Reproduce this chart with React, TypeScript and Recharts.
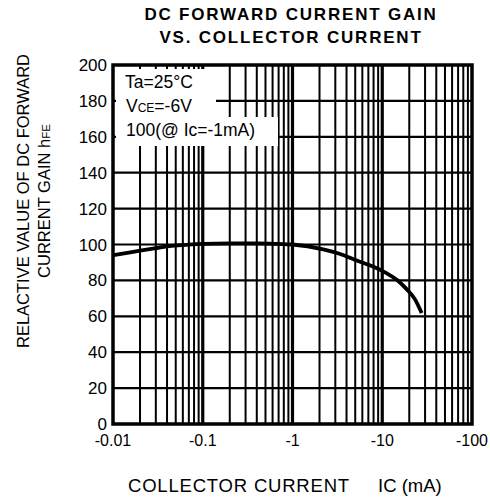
import React from 'react';
import { LineChart, Line, XAxis, YAxis, CartesianGrid, ReferenceLine, ReferenceArea } from 'recharts';

const currentMA = [0.01, 0.015, 0.02, 0.03, 0.045, 0.07, 0.1, 0.2, 0.4, 0.7, 1, 2.2, 3.4, 5.2, 8, 11, 14.5, 18.8, 23, 27.5];
const relativeHfe = [94, 95.5, 96.6, 98, 99.2, 99.9, 100.3, 100.6, 100.6, 100.3, 100, 97.3, 94.7, 91.1, 87.6, 84.2, 80.4, 75, 69.7, 61.8];
const xTicks = [0.01, 0.1, 1, 10, 100];
const yTicks = [0, 20, 40, 60, 80, 100, 120, 140, 160, 180, 200];
const decades = [0.01, 0.1, 1, 10];
const multipliers = [2, 3, 4, 5, 6, 7, 8, 9];
const majorGrid = [0.1, 1, 10];

const data = currentMA.map((ic, i) => ({ ic, hfe: relativeHfe[i] }));
const minorGrid = decades.flatMap((d) => multipliers.map((m) => Number((d * m).toPrecision(3))));

const FONT = '"Liberation Sans", Arial, Helvetica, sans-serif';

export default function App() {
  return (
    <div style={{ position: 'absolute', left: 0, top: 0, width: 490, height: 499, background: '#fff', fontFamily: FONT }}>
      <LineChart width={490} height={499} data={data} margin={{ top: 65, right: 18, bottom: 0, left: 0 }}>
        <CartesianGrid vertical={false} stroke="#000" strokeWidth={2.2} strokeOpacity={1} />
        {minorGrid.map((v) => (
          <ReferenceLine key={'m' + v} x={v} stroke="#000" strokeWidth={2} ifOverflow="hidden" />
        ))}
        {majorGrid.map((v) => (
          <ReferenceLine key={'M' + v} x={v} stroke="#000" strokeWidth={3.2} ifOverflow="hidden" />
        ))}
        <ReferenceArea x1={0.01} x2={100} y1={0} y2={200} fill="none" stroke="#000" strokeWidth={3.5} ifOverflow="visible" />
        <XAxis
          dataKey="ic"
          type="number"
          scale="log"
          domain={[0.01, 100]}
          ticks={xTicks}
          allowDataOverflow
          height={75}
          axisLine={false}
          tickLine={false}
          tickMargin={5}
          tickFormatter={(v: number) => '-' + v}
          tick={{ fill: '#000', fontSize: 16, fontFamily: FONT }}
        />
        <YAxis
          type="number"
          domain={[0, 200]}
          ticks={yTicks}
          width={113}
          axisLine={false}
          tickLine={false}
          tickMargin={0}
          tick={{ fill: '#000', fontSize: 17, fontFamily: FONT }}
        />
        <Line
          type="monotone"
          dataKey="hfe"
          stroke="#000"
          strokeWidth={3.8}
          dot={false}
          isAnimationActive={false}
        />
      </LineChart>
      <svg
        width={490}
        height={499}
        style={{ position: 'absolute', left: 0, top: 0, pointerEvents: 'none' }}
        fontFamily={FONT}
      >
        <rect x={116} y={69} width={100} height={48} fill="#fff" />
        <rect x={116} y={117} width={162} height={29} fill="#fff" />
        <text x={125} y={88} fontSize={17.5} fill="#000">Ta=25°C</text>
        <text x={126} y={112} fontSize={17.5} fill="#000">
          V<tspan fontSize={12}>CE</tspan>=-6V
        </text>
        <text x={126} y={136} fontSize={17.5} fill="#000">100(@ Ic=-1mA)</text>

        <text x={291} y={20} fontSize={17} fontWeight="bold" textAnchor="middle" letterSpacing={1.8} fill="#000">
          DC FORWARD CURRENT GAIN
        </text>
        <text x={291} y={43} fontSize={17} fontWeight="bold" textAnchor="middle" letterSpacing={1.8} fill="#000">
          VS. COLLECTOR CURRENT
        </text>

        <text transform="translate(28.5,201) rotate(-90)" fontSize={16.5} textAnchor="middle" fill="#000">
          RELACTIVE VALUE OF DC FORWARD
        </text>
        <text transform="translate(50,201) rotate(-90)" fontSize={16.5} textAnchor="middle" fill="#000">
          CURRENT GAIN h<tspan fontSize={11.5}>FE</tspan>
        </text>

        <text x={128} y={492} fontSize={18.5} letterSpacing={0.8} fill="#000">COLLECTOR CURRENT</text>
        <text x={378} y={492} fontSize={18.5} fill="#000">IC (mA)</text>
      </svg>
    </div>
  );
}
